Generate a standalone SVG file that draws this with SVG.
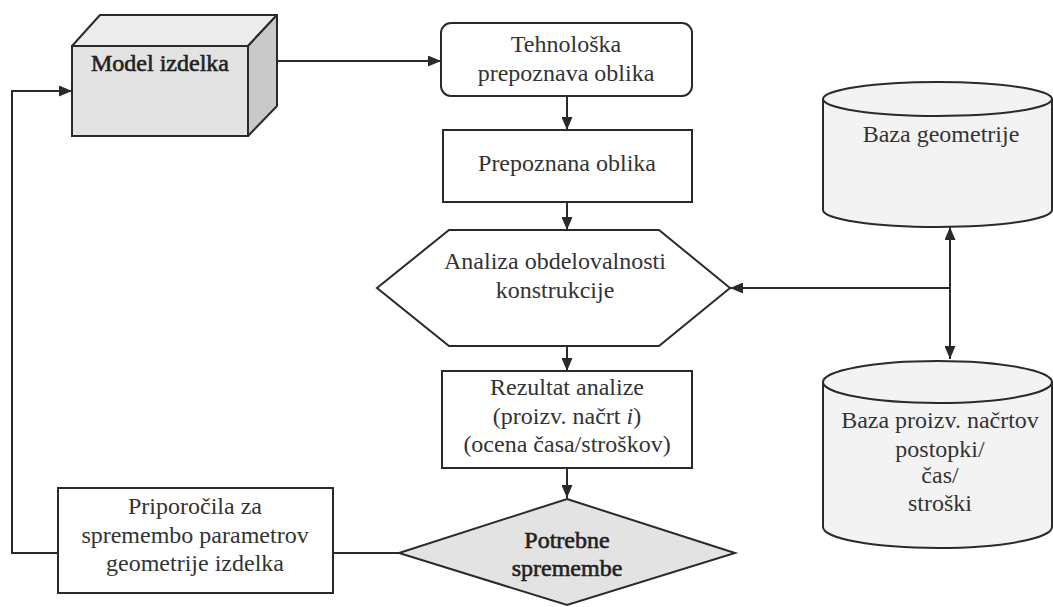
<svg xmlns="http://www.w3.org/2000/svg" width="1053" height="607" viewBox="0 0 1053 607">
<defs>
<marker id="ah" markerWidth="13" markerHeight="11" refX="13" refY="5.5" orient="auto" markerUnits="userSpaceOnUse">
<path d="M0,0 L13,5.5 L0,11 Z" fill="#2a2a2a"/>
</marker>
<style>
.s{stroke:#2a2a2a;stroke-width:2;}
.t{font-family:'Liberation Serif','Times New Roman',serif;font-size:24px;fill:#333;text-anchor:middle;}
.b{fill:#222;stroke:#222;stroke-width:0.6px;}
.c{fill:none;stroke:#2a2a2a;stroke-width:2;}
</style>
</defs>
<rect width="1053" height="607" fill="#fff"/>
<g id="connectors">
<line class="c" x1="277" y1="61" x2="441" y2="61" marker-end="url(#ah)"/>
<line class="c" x1="567" y1="96" x2="567" y2="130" marker-end="url(#ah)"/>
<line class="c" x1="567" y1="202" x2="567" y2="230" marker-end="url(#ah)"/>
<line class="c" x1="567" y1="346" x2="567" y2="371" marker-end="url(#ah)"/>
<line class="c" x1="567" y1="468" x2="567" y2="498" marker-end="url(#ah)"/>
<line class="c" x1="950" y1="288" x2="730" y2="288" marker-end="url(#ah)"/>
<line class="c" x1="950" y1="288" x2="950" y2="227" marker-end="url(#ah)"/>
<line class="c" x1="950" y1="288" x2="950" y2="359" marker-end="url(#ah)"/>
<line class="c" x1="399" y1="553" x2="333" y2="553"/>
<polyline class="c" points="58,553 12,553 12,91 72,91" marker-end="url(#ah)"/>
</g>
<g id="model">
<polygon points="72,46 100,15 277,15 248,46" fill="#ececec" class="s" stroke-linejoin="round"/>
<polygon points="248,46 277,15 277,106 248,136" fill="#c9c9c9" class="s" stroke-linejoin="round"/>
<rect x="72" y="46" width="176" height="90" fill="#e3e3e3" class="s"/>
<text class="t b" x="160" y="71">Model izdelka</text>
</g>
<g id="tehnoloska">
<rect x="441" y="23" width="251" height="73" rx="10" fill="#fff" class="s"/>
<text class="t" x="566" y="52">Tehnološka</text>
<text class="t" x="566" y="81">prepoznava oblika</text>
</g>
<g id="prepoznana">
<rect x="443" y="130" width="249" height="72" fill="#fff" class="s"/>
<text class="t" x="567" y="171">Prepoznana oblika</text>
</g>
<g id="analiza">
<polygon points="449,230 659,230 730,288 659,346 449,346 377,288" fill="#fff" class="s"/>
<text class="t" x="555" y="269">Analiza obdelovalnosti</text>
<text class="t" x="555" y="298">konstrukcije</text>
</g>
<g id="rezultat">
<rect x="442" y="371" width="250" height="97" fill="#fff" class="s"/>
<text class="t" x="567" y="395">Rezultat analize</text>
<text class="t" x="567" y="424">(proizv. načrt <tspan font-style="italic">i</tspan>)</text>
<text class="t" x="567" y="452">(ocena časa/stroškov)</text>
</g>
<g id="potrebne">
<polygon points="567,499 735,553 567,605 399,553" fill="#e3e3e3" class="s"/>
<text class="t b" x="567" y="548">Potrebne</text>
<text class="t b" x="567" y="576">spremembe</text>
</g>
<g id="priporocila">
<rect x="58" y="488" width="275" height="105" fill="#fff" class="s"/>
<text class="t" x="195" y="514">Priporočila za</text>
<text class="t" x="195" y="543">spremembo parametrov</text>
<text class="t" x="195" y="571">geometrije izdelka</text>
</g>
<g id="baza-geometrije">
<path d="M823,99 L823,210 A114.5,17 0 0 0 1052,210 L1052,99" fill="#f3f3f3" class="s"/>
<ellipse cx="937.5" cy="99" rx="114.5" ry="17" fill="#f3f3f3" class="s"/>
<text class="t" x="941" y="142">Baza geometrije</text>
</g>
<g id="baza-nacrtov">
<path d="M823,382 L823,527 A114.5,21 0 0 0 1052,527 L1052,382" fill="#f3f3f3" class="s"/>
<ellipse cx="937.5" cy="382" rx="114.5" ry="21" fill="#f3f3f3" class="s"/>
<text class="t" x="940" y="428">Baza proizv. načrtov</text>
<text class="t" x="940" y="457">postopki/</text>
<text class="t" x="940" y="483">čas/</text>
<text class="t" x="940" y="511">stroški</text>
</g>
</svg>
